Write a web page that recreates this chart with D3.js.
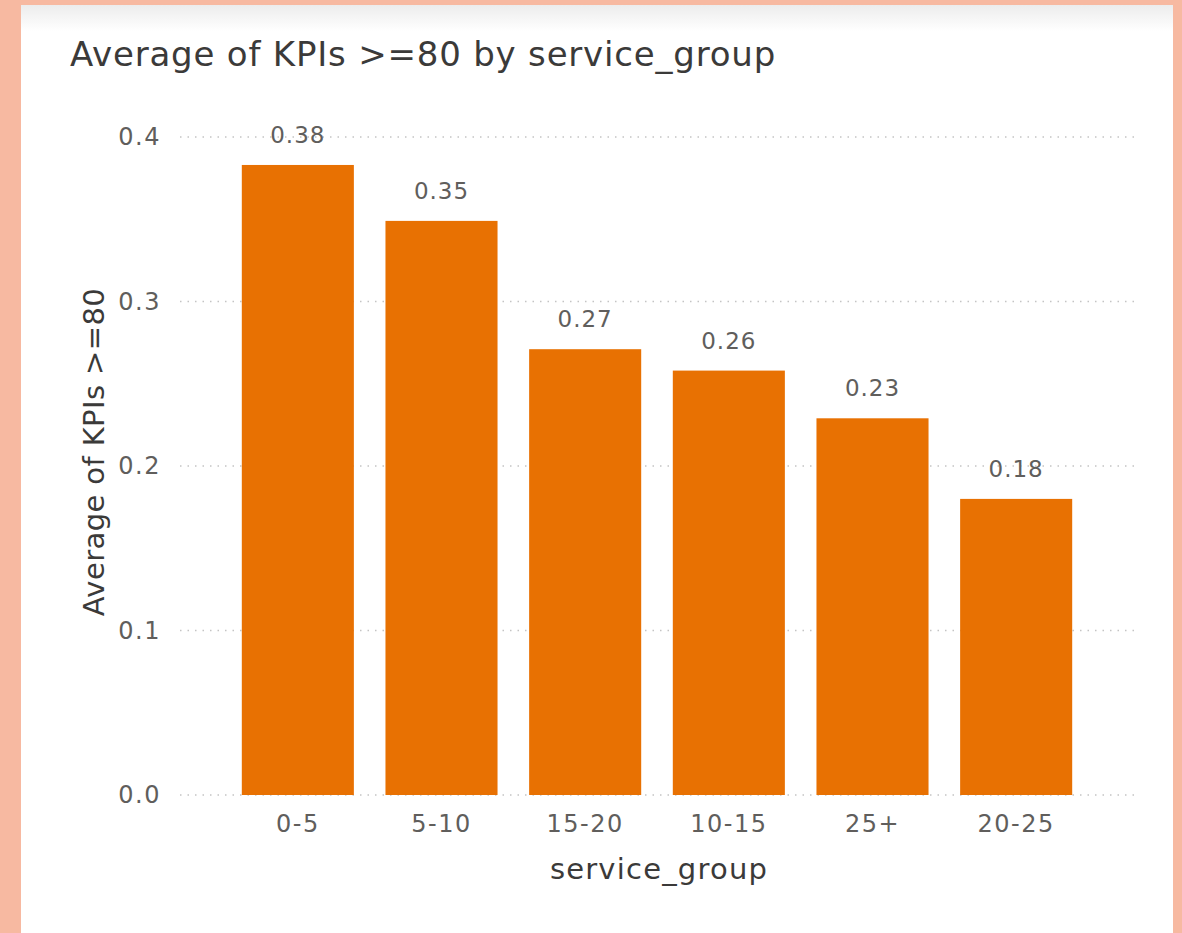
<!DOCTYPE html>
<html>
<head>
<meta charset="utf-8">
<script src="https://cdn.jsdelivr.net/npm/d3@7"></script>
<style>
  html, body { margin: 0; padding: 0; background: #F7B9A1; }
  svg { display: block; }
</style>
</head>
<body>
<script>
// Average share of KPIs >= 80, per service group (sorted descending)
const categories = ["0-5", "5-10", "15-20", "10-15", "25+", "20-25"];
const values = [0.383, 0.349, 0.271, 0.258, 0.229, 0.180];
const yTicks = [0, 0.1, 0.2, 0.3, 0.4];

const W = 1182, H = 933;
const svg = d3.select("body").append("svg").attr("width", W).attr("height", H);

// card with a soft grey header shade
const defs = svg.append("defs");
const grad = defs.append("linearGradient").attr("id", "shade").attr("x1", 0).attr("x2", 0).attr("y1", 0).attr("y2", 1);
grad.append("stop").attr("offset", 0).attr("stop-color", "#ececec");
grad.append("stop").attr("offset", 1).attr("stop-color", "#ffffff");

svg.append("rect").attr("x", 21).attr("y", 5).attr("width", 1152).attr("height", H).attr("fill", "#ffffff");
svg.append("rect").attr("x", 21).attr("y", 5).attr("width", 1152).attr("height", 26).attr("fill", "url(#shade)");

const font = "'DejaVu Sans', 'Noto Sans', sans-serif";

svg.append("text")
  .attr("x", 70).attr("y", 66)
  .attr("font-family", font).attr("font-size", 34)
  .attr("letter-spacing", 0.8)
  .attr("fill", "#3b3a39")
  .text("Average of KPIs >=80 by service_group");

const x = d3.scaleBand().domain(categories).range([226, 1088]).paddingInner(0.22).paddingOuter(0.11);
const y = d3.scaleLinear().domain([0, 0.4]).range([795, 137]);

// dotted gridlines
svg.append("g").selectAll("line").data(yTicks).join("line")
  .attr("x1", 180).attr("x2", 1135)
  .attr("y1", d => y(d)).attr("y2", d => y(d))
  .attr("stroke", "#c4c4c4").attr("stroke-width", 1.4)
  .attr("stroke-dasharray", "1.5,6");

// y axis tick labels
const yAxis = d3.axisLeft(y).tickValues(yTicks).tickFormat(d3.format(".1f")).tickSize(0).tickPadding(0);
const gy = svg.append("g").attr("transform", "translate(161,0)").call(yAxis);
gy.select(".domain").remove();
gy.selectAll("text").attr("font-family", font).attr("font-size", 24)
  .attr("letter-spacing", 1.5).attr("fill", "#605e5c");

// bars
svg.append("g").selectAll("rect").data(values).join("rect")
  .attr("x", (d, i) => x(categories[i]))
  .attr("width", x.bandwidth())
  .attr("y", d => y(d))
  .attr("height", d => y(0) - y(d))
  .attr("fill", "#E87102");

// data labels
svg.append("g").selectAll("text").data(values).join("text")
  .attr("x", (d, i) => x(categories[i]) + x.bandwidth() / 2)
  .attr("y", d => y(d) - 22)
  .attr("text-anchor", "middle")
  .attr("font-family", font).attr("font-size", 23)
  .attr("letter-spacing", 1)
  .attr("fill", "#605e5c")
  .text(d => d3.format(".2f")(d));

// x axis tick labels
const xAxis = d3.axisBottom(x).tickSize(0).tickPadding(0);
const gx = svg.append("g").attr("transform", "translate(0,815)").call(xAxis);
gx.select(".domain").remove();
gx.selectAll("text").attr("font-family", font).attr("font-size", 24)
  .attr("letter-spacing", 1.5).attr("fill", "#605e5c").attr("dy", "0.71em");

// axis titles
svg.append("text")
  .attr("x", 659).attr("y", 879)
  .attr("text-anchor", "middle")
  .attr("font-family", font).attr("font-size", 29)
  .attr("letter-spacing", 1.2)
  .attr("fill", "#3b3a39")
  .text("service_group");

svg.append("text")
  .attr("transform", "translate(104,452) rotate(-90)")
  .attr("text-anchor", "middle")
  .attr("font-family", font).attr("font-size", 29)
  .attr("letter-spacing", 0.4)
  .attr("fill", "#3b3a39")
  .text("Average of KPIs >=80");
</script>
</body>
</html>
